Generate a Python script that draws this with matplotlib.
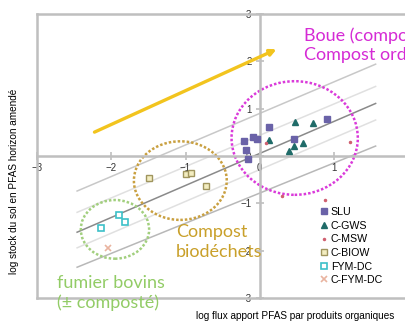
import numpy as np
import matplotlib.pyplot as plt
from matplotlib.patches import Ellipse

# data
slu_x = [0.12, 0.91, 0.46, -0.21, -0.09, -0.04, -0.19, -0.16]
slu_y = [0.62, 0.79, 0.35, 0.32, 0.40, 0.35, 0.13, -0.07]
gws_x = [0.47, 0.71, 0.12, 0.46, 0.58, 0.39]
gws_y = [0.72, 0.69, 0.33, 0.21, 0.27, 0.10]
msw_x = [0.08, 1.22, 0.30, 0.88]
msw_y = [0.28, 0.29, -0.84, -0.93]
biow_x = [-1.49, -1.00, -0.93, -0.72]
biow_y = [-0.46, -0.39, -0.36, -0.64]
fym_x = [-1.89, -1.81, -2.14]
fym_y = [-1.25, -1.39, -1.52]
cfym_x = [-2.05]
cfym_y = [-1.94]

# reference lines (start x / end x, y at each end)
line_x = [-2.46, 1.56]
line_y = [[-0.74, 1.94], [-1.19, 1.47], [-1.61, 1.11], [-1.94, 0.76], [-2.35, 0.21]]
line_col = ['#C8C8C8', '#E0E0E0', '#8A8A8A', '#E0E0E0', '#B8B8B8']

ticks = [-3, -2, -1, 0, 1]
yticks = [-3, -2, -1, 0, 1, 2, 3]

fig = plt.figure(figsize=(4.06, 3.22), dpi=100)
ax = fig.add_axes([37/406, 24/322, 401/406, 284/322])
ax.set_xlim(-3, 2.4)
ax.set_ylim(-3, 3)

gray = '#BFBFBF'
ax.spines['right'].set_visible(False)
ax.spines['left'].set_position('zero')
ax.spines['bottom'].set_position('zero')
for s in ['left', 'bottom', 'top']:
    ax.spines[s].set_color(gray)
    ax.spines[s].set_linewidth(1.8)
ax.axvline(-3, color=gray, lw=1.8, clip_on=False)
ax.axhline(-3, color=gray, lw=1.8, clip_on=False)

ax.set_xticks(ticks)
ax.set_yticks(yticks)
ax.tick_params(direction='inout', length=6, width=1.2, color=gray,
               labelsize=7, labelcolor='#333333', pad=2)
ax.tick_params(axis='y', pad=3)
for lab in ax.get_xticklabels() + ax.get_yticklabels():
    lab.set_family('Liberation Sans')

for yy, c in zip(line_y, line_col):
    ax.plot(line_x, yy, color=c, lw=1.1, zorder=1)

ax.annotate('', xy=(0.26, 2.28), xytext=(-2.26, 0.48),
            arrowprops=dict(arrowstyle='-|>', color='#F2C41E', lw=2.4,
                            mutation_scale=9))

ax.add_patch(Ellipse((0.47, 0.38), 1.70, 2.40, fill=False, ec='#DA3ADA',
                     lw=1.8, ls=(0, (1, 0.8)), zorder=2))
ax.add_patch(Ellipse((-1.07, -0.52), 1.25, 1.66, fill=False, ec='#C9A040',
                     lw=1.8, ls=(0, (1, 0.8)), zorder=2))
ax.add_patch(Ellipse((-1.95, -1.55), 0.92, 1.24, fill=False, ec='#A2CF7E',
                     lw=1.8, ls=(0, (1, 0.8)), zorder=2))

ax.plot(slu_x, slu_y, 's', color='#6A62A8', ms=5, ls='none', label='SLU', zorder=4)
ax.plot(gws_x, gws_y, '^', color='#1F6B68', ms=5, ls='none', label='C-GWS', zorder=4)
ax.plot(msw_x, msw_y, '.', color='#D06070', ms=3, ls='none', label='C-MSW', zorder=4)
ax.plot(biow_x, biow_y, 's', mfc='#F3EDC0', mec='#A0955E', mew=1, ms=5, ls='none',
        label='C-BIOW', zorder=4)
ax.plot(fym_x, fym_y, 's', mfc='white', mec='#3CC0C8', mew=1.2, ms=5, ls='none',
        label='FYM-DC', zorder=4)
ax.plot(cfym_x, cfym_y, 'x', color='#E9B4A0', mew=1.2, ms=4, ls='none',
        label='C-FYM-DC', zorder=4)

ax.text(0.60, 2.34, 'Boue (compostée)\nCompost ordures ménagères', color='#D52BD5',
        family='Lato', fontsize=13, va='center', ha='left', linespacing=1.2)
ax.text(-1.13, -1.81, 'Compost\nbiodéchets', color='#C9A02A', family='Lato',
        fontsize=13, va='center', ha='left', linespacing=1.3)
ax.text(-2.73, -2.89, 'fumier bovins\n(± composté)', color='#92CC66', family='Lato',
        fontsize=13, va='center', ha='left', linespacing=1.25)

ax.legend(loc='upper left', bbox_to_anchor=(320/406, 1 - 207/322),
          bbox_transform=fig.transFigure, frameon=False, handlelength=0.8,
          handletextpad=0.2, labelspacing=0.34, borderpad=0, borderaxespad=0,
          prop={'family': 'Liberation Sans', 'size': 7.7})

fig.text(295/406, 1 - 316/322, 'log flux apport PFAS par produits organiques',
         ha='center', va='center', fontsize=7.2, family='Liberation Sans')
fig.text(14/406, 1 - 181/322, 'log stock du sol en PFAS horizon amendé',
         ha='center', va='center', rotation=90, fontsize=7.2, family='Liberation Sans')

fig.savefig('out.png', dpi=100)
